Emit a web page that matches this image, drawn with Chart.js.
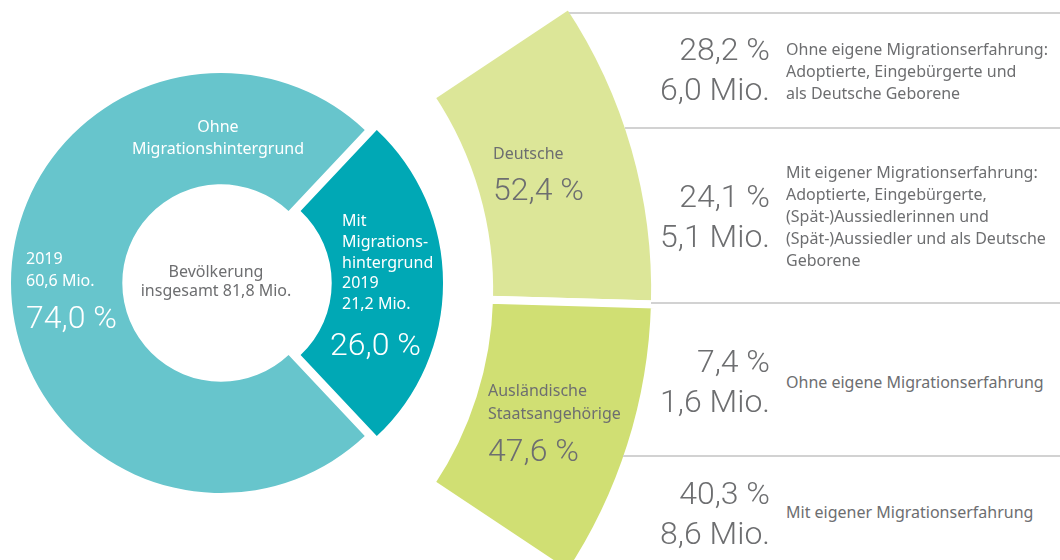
<!DOCTYPE html>
<html lang="de">
<head>
<meta charset="UTF-8">
<title>Bevölkerung mit und ohne Migrationshintergrund 2019</title>
<script src="https://cdn.jsdelivr.net/npm/chart.js"></script>
<style>
  body { margin: 0; width: 1060px; height: 560px; overflow: hidden; position: relative; background: #fff;
         font-family: "Noto Sans", sans-serif; font-size: 16px; color: #6d6e70; }
  .box { position: absolute; z-index: 1; }
  .rule { position: absolute; height: 2px; background: #d2d2d2; z-index: 2; }
  .txt { position: absolute; white-space: pre; z-index: 2; line-height: 22px; }
  .big { font-family: Roboto, sans-serif; font-weight: 300; font-size: 32px; line-height: 36px; }
</style>
</head>
<body>
  <!-- linker Ring: mit / ohne Migrationshintergrund -->
  <div class="box" style="left:-9px; top:53px;"><canvas id="population" width="460" height="460"></canvas></div>
  <!-- rechter Bogen: Deutsche / Ausländer -->
  <div class="box" style="left:393px; top:-10px;"><canvas id="citizenship" width="300" height="600"></canvas></div>
</body>
<script>
// ---------------- Daten ----------------
const year = 2019;
const totalMio = 81.8;

const groupLabels = ['Mit\nMigrations-\nhintergrund', 'Ohne\nMigrationshintergrund'];
const groupShares = [26.0, 74.0];
const groupMio    = [21.2, 60.6];

const citizenLabels = ['Deutsche', 'Ausländische\nStaatsangehörige'];
const citizenShares = [52.4, 47.6];

const detailShares = [28.2, 24.1, 7.4, 40.3];
const detailMio    = [6.0, 5.1, 1.6, 8.6];
const detailTexts  = [
  'Ohne eigene Migrationserfahrung:\nAdoptierte, Eingebürgerte und\nals Deutsche Geborene',
  'Mit eigener Migrationserfahrung:\nAdoptierte, Eingebürgerte,\n(Spät-)Aussiedlerinnen und\n(Spät-)Aussiedler und als Deutsche\nGeborene',
  'Ohne eigene Migrationserfahrung',
  'Mit eigener Migrationserfahrung'
];

// Farben
const teal     = ['#00a8b5', '#67c5cc'];
const greens   = ['#dce698', '#d0df73'];
const grayText = '#6d6e70';

const de = v => v.toFixed(1).replace('.', ',');

// ---------------- Charts ----------------
const noUi = {
  responsive: false,
  animation: false,
  events: [],
  plugins: { legend: { display: false }, tooltip: { enabled: false } }
};

new Chart(document.getElementById('population'), {
  type: 'doughnut',
  data: {
    labels: groupLabels,
    datasets: [{
      data: groupShares,
      backgroundColor: teal,
      borderWidth: 0,
      offset: [48, 0],
      hoverOffset: 0
    }]
  },
  options: Object.assign({
    radius: 210,
    cutout: '47%',
    rotation: 90 - groupShares[0] * 1.8   // dunkles Segment mittig rechts
  }, noUi)
});

// Ringmitte liegt links ausserhalb des Canvas (etwa x=140, y=290)
const ringCx = 140, ringCy = 290, ringR = 511;
new Chart(document.getElementById('citizenship'), {
  type: 'doughnut',
  data: {
    labels: citizenLabels,
    datasets: [{
      data: citizenShares,
      backgroundColor: greens,
      borderColor: '#ffffff',
      borderWidth: 8,
      hoverOffset: 0
    }]
  },
  options: Object.assign({
    radius: 515,
    cutout: '67.77%',
    rotation: 56.4,
    circumference: 67.2
  }, noUi)
});

// ---------------- Texte und Linien ----------------
function addText(text, css, cls) {
  const d = document.createElement('div');
  d.className = 'txt' + (cls ? ' ' + cls : '');
  d.textContent = text;
  Object.assign(d.style, css);
  document.body.appendChild(d);
}

// Trennlinien rechts, beginnen am Aussenrand des Bogens
[13, 128, 303, 456].forEach(y => {
  const dy = y - ringCy;
  const x0 = Math.round(ringCx + Math.sqrt(ringR * ringR - dy * dy));
  const r = document.createElement('div');
  r.className = 'rule';
  Object.assign(r.style, { left: x0 + 'px', top: (y - 1) + 'px', width: (1060 - x0) + 'px' });
  document.body.appendChild(r);
});

// linker Ring
addText(groupLabels[1], { left: '118px', width: '200px', top: '115px', textAlign: 'center', color: '#fff' });
addText(year + '\n' + de(groupMio[1]) + ' Mio.', { left: '26px', top: '247px', color: '#fff' });
addText(de(groupShares[1]) + ' %', { left: '26px', top: '299px', color: '#fff' }, 'big');

addText(groupLabels[0] + '\n' + year + '\n' + de(groupMio[0]) + ' Mio.', { left: '342px', top: '210px', lineHeight: '20.75px', color: '#fff' });
addText(de(groupShares[0]) + ' %', { left: '330px', top: '326px', color: '#fff' }, 'big');

addText('Bevölkerung\ninsgesamt ' + de(totalMio) + ' Mio.', { left: '116px', width: '200px', top: '262px', lineHeight: '19px', textAlign: 'center', color: grayText });

// rechter Bogen
addText(citizenLabels[0], { left: '493px', top: '142px' });
addText(de(citizenShares[0]) + ' %', { left: '493px', top: '171px' }, 'big');
addText(citizenLabels[1], { left: '488px', top: '379px', lineHeight: '23px' });
addText(de(citizenShares[1]) + ' %', { left: '488px', top: '432px' }, 'big');

// Detailzeilen
const numTops  = [29, 175.5, 340.5, 472.5];
const textTops = [38, 161, 371, 501];
detailShares.forEach((s, i) => {
  addText(de(s) + ' %\n' + de(detailMio[i]) + ' Mio.',
    { right: '290px', top: numTops[i] + 'px', textAlign: 'right', lineHeight: '40px' }, 'big');
  addText(detailTexts[i], { left: '786px', top: textTops[i] + 'px' });
});
</script>
</html>
